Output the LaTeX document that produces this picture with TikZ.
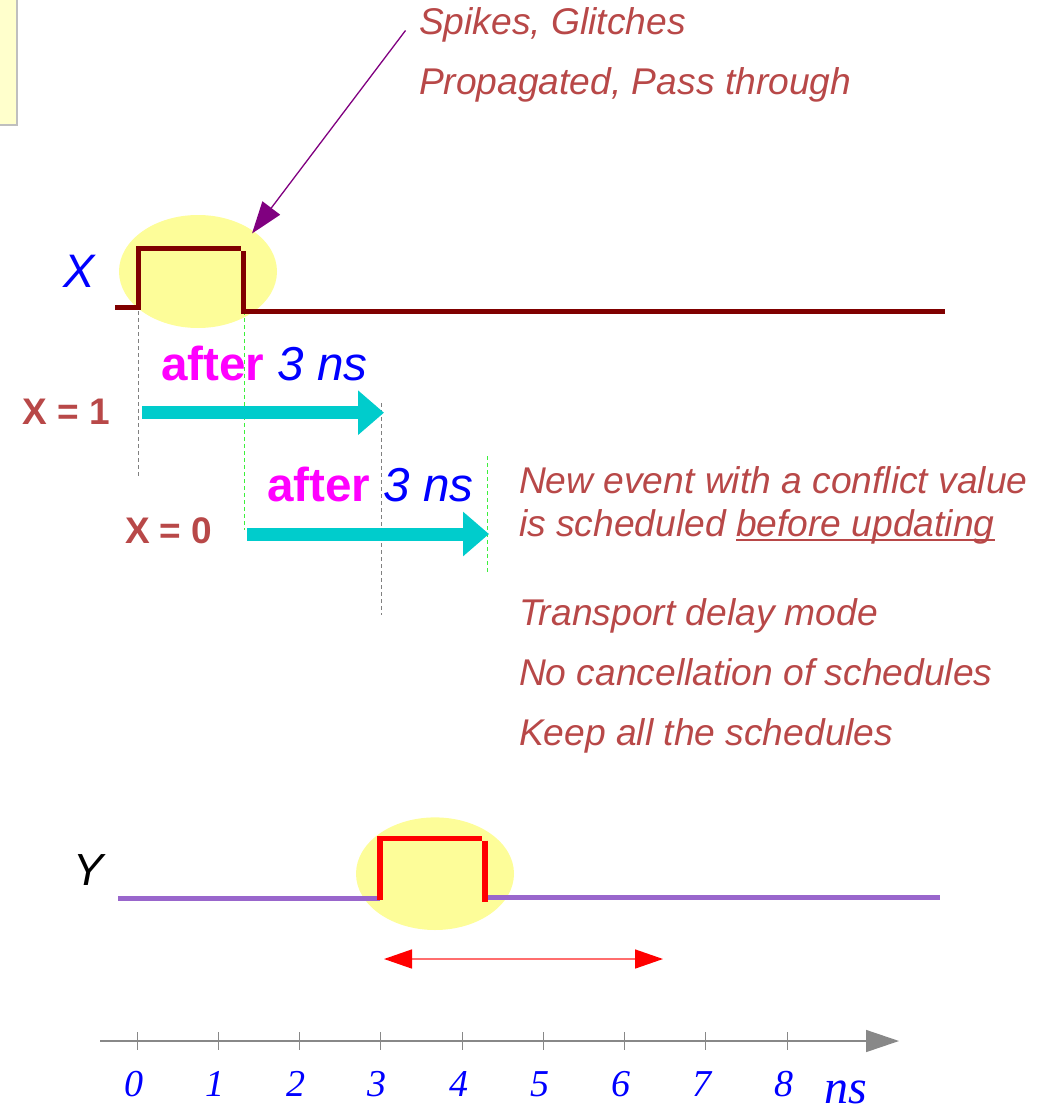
\documentclass[tikz,border=0pt]{standalone}
\usepackage{fontspec}
\setmainfont{Liberation Sans}
\newfontfamily\tmsfont{Liberation Serif}
\usetikzlibrary{arrows.meta}
\definecolor{txtred}{RGB}{184,72,72}
\definecolor{xwave}{RGB}{128,0,0}
\definecolor{ywave}{RGB}{153,102,204}
\definecolor{hilite}{RGB}{253,253,153}
\definecolor{cyanarr}{RGB}{0,204,204}
\definecolor{mag}{RGB}{255,0,255}
\definecolor{annot}{RGB}{128,0,128}
\definecolor{gline}{RGB}{60,240,60}
\definecolor{axisgray}{RGB}{136,136,136}
\definecolor{noteyel}{RGB}{255,255,204}
\definecolor{dblred}{RGB}{255,110,110}
\begin{document}
\begin{tikzpicture}[x=1pt,y=-1pt,
  lbl/.style={anchor=base west,inner sep=0pt,outer sep=0pt},
  note/.style={lbl,text=txtred,font=\fontsize{37.2}{44}\selectfont\itshape},
  aftertxt/.style={lbl,font=\fontsize{47.6}{56}\selectfont},
  xval/.style={lbl,text=txtred,font=\fontsize{37}{43}\selectfont\bfseries},
  xwv/.style={draw=xwave,line width=5pt,line join=miter},
  ywv/.style={draw=ywave,line width=5.3pt},
  ypulse/.style={draw=red,line width=5.3pt,line join=miter},
  graydash/.style={draw=gray,line width=1pt,dash pattern=on 4pt off 3pt},
  greendash/.style={draw=gline,line width=1pt,dash pattern=on 4pt off 3pt},
  cyanarrow/.style={draw=cyanarr,line width=13pt,-{Triangle[length=26pt,width=43pt]}},
  tickline/.style={draw=axisgray,line width=1pt},
  digit/.style={anchor=base,inner sep=0pt,text=blue,font=\fontsize{38}{45}\tmsfont\itshape}
]
\useasboundingbox (0,0) rectangle (1049,1110);
% partial note box at top-left
\draw[draw=gray!50,fill=noteyel,line width=1.5pt] (-10,-10) rectangle (17,125);

% highlight ellipses
\fill[hilite] (198,271.5) ellipse [x radius=79, y radius=56.5];
\fill[hilite] (435,873.7) ellipse [x radius=79, y radius=56.3];

% guide lines
\draw[graydash] (138.3,311) -- (138.3,478);
\draw[greendash] (244.3,311) -- (244.3,530);
\draw[graydash] (381.7,403) -- (381.7,615);
\draw[greendash] (487.7,456) -- (487.7,572);

% X waveform
\draw[xwv] (115,307.5) -- (138,307.5) -- (138,248.5) -- (240.5,248.5);
\draw[xwv] (243.5,251) -- (243.5,311.5) -- (945,311.5);
\node[lbl,text=blue,font=\fontsize{47}{55}\selectfont\itshape] (xlabel) at (63,287) {X};

% Y waveform
\draw[ywv] (118,898.3) -- (380,898.3);
\draw[ypulse] (380,900) -- (380,838.3) -- (481.7,838.3);
\draw[ypulse] (485,840.7) -- (485,901.7);
\draw[ywv] (487.7,897.3) -- (940,897.3);
\node[lbl,text=black,font=\fontsize{45}{54}\selectfont\itshape] (ylabel) at (73,885) {Y};

% annotation
\node[note] (spikes) at (419,35) {Spikes, Glitches};
\node[note] (propag) at (419,95) {Propagated, Pass through};
\coordinate (annotstart) at (405.5,30.5);
\coordinate (annottip) at (252,233.5);
\draw[draw=annot,line width=1.3pt,-{Triangle[length=32pt,width=22pt]}] (annotstart) -- (annottip);

% scheduled events
\node[aftertxt] (after1) at (161,380) {\textcolor{mag}{\bfseries after} \textcolor{blue}{\itshape 3 ns}};
\node[xval] (x1) at (23,424) {X = 1};
\coordinate (a1s) at (142,412.7);
\coordinate (a1e) at (384,412.7);
\draw[cyanarrow] (a1s) -- (a1e);

\node[aftertxt] (after2) at (267,501) {\textcolor{mag}{\bfseries after} \textcolor{blue}{\itshape 3 ns}};
\node[xval] (x0) at (125,543) {X = 0};
\coordinate (a2s) at (247,534);
\coordinate (a2e) at (489,534);
\draw[cyanarrow] (a2s) -- (a2e);

% right side notes
\node[note] (newev1) at (519,493) {New event with a conflict value};
\node[note] (newev2a) at (519,536) {is scheduled};
\node[note,xshift=10.3pt] (newev2b) at (newev2a.base east) {before updating};
\draw[draw=txtred,line width=2.6pt] ([yshift=-4pt]newev2b.base west) -- ([yshift=-4pt]newev2b.base east);
\node[note] (transp) at (519,625) {Transport delay mode};
\node[note] (nocanc) at (519,685) {No cancellation of schedules};
\node[note] (keep) at (519,745) {Keep all the schedules};

% red double arrow
\coordinate (dl) at (384,959);
\coordinate (dr) at (663,959);
\draw[draw=dblred,line width=1.5pt,{Triangle[length=28pt,width=19pt,color=red]}-{Triangle[length=28pt,width=19pt,color=red]}] (dl) -- (dr);

% time axis
\coordinate (axs) at (100,1041);
\coordinate (axe) at (899,1041);
\draw[draw=axisgray,line width=1.5pt,-{Triangle[length=33pt,width=22pt]}] (axs) -- (axe);
\foreach \i in {0,...,8}{
  \pgfmathsetmacro{\xx}{137+81.25*\i}
  \draw[tickline] (\xx,1032) -- (\xx,1050);
  \node[digit] (d\i) at (\xx-3.5,1096) {\i};
}
\node[anchor=base,inner sep=0pt,text=blue,font=\fontsize{48}{56}\tmsfont\itshape] (nsunit) at (846,1103) {ns};
\end{tikzpicture}
\end{document}
